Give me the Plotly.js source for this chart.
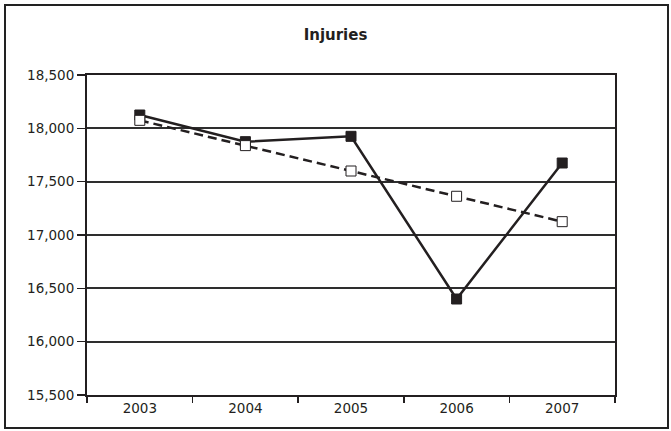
<!DOCTYPE html>
<html><head><meta charset="utf-8">
<script src="https://cdn.plot.ly/plotly-3.0.1.min.js"></script>
<style>
body{margin:0;padding:0;background:#fff;}
#wrap{position:relative;width:671px;height:431px;}
#chart{width:671px;height:431px;}
#frame{position:absolute;left:4px;top:4px;width:661px;height:421px;border:2px solid #222;pointer-events:none;}
</style></head>
<body>
<div id="wrap"><div id="chart"></div><div id="frame"></div></div>
<script>
const years = ["2003","2004","2005","2006","2007"];
const injuries = [18125, 17875, 17925, 16400, 17675];
const trend = [18075, 17838, 17600, 17363, 17125];
const yTicks = [15500, 16000, 16500, 17000, 17500, 18000, 18500];
const yTickText = ["15,500","16,000","16,500","17,000","17,500","18,000","18,500"];

const FONT = "DejaVu Sans, Liberation Sans, Arial, sans-serif";
const traces = [
  {x: years, y: injuries, type: "scatter", mode: "lines+markers",
   line: {color: "#231f20", width: 2.5},
   marker: {symbol: "square", size: 10, color: "#231f20", line: {color: "#231f20", width: 1}},
   showlegend: false},
  {x: years, y: trend, type: "scatter", mode: "lines+markers",
   line: {color: "#231f20", width: 2.5, dash: "9px,5px"},
   marker: {symbol: "square", size: 10, color: "#ffffff", line: {color: "#231f20", width: 1}},
   showlegend: false}
];

const layout = {
  width: 671, height: 431,
  margin: {l: 87, r: 56, t: 75, b: 36},
  paper_bgcolor: "#fff", plot_bgcolor: "#fff",
  font: {family: FONT, color: "#231f20", size: 13.5},
  title: {text: "<b>Injuries</b>", x: 0.5, xanchor: "center", y: 0.92, yanchor: "middle",
          font: {size: 15, family: FONT, color: "#231f20"}},
  xaxis: {type: "category", tickson: "boundaries", ticks: "outside", ticklen: 6, tickwidth: 1.5, tickcolor: "#231f20",
          showgrid: false, showline: true, linecolor: "#231f20", linewidth: 2, mirror: true,
          tickfont: {size: 13.5}, range: [-0.5, 4.5], fixedrange: true},
  yaxis: {range: [15500, 18500], tickvals: yTicks, ticktext: yTickText, ticks: "outside", ticklen: 8,
          tickwidth: 1.5, tickcolor: "#231f20", showgrid: true, gridcolor: "#2e2e2e", gridwidth: 1.8,
          showline: true, linecolor: "#231f20", linewidth: 2, mirror: true, zeroline: false,
          tickfont: {size: 13.5}, fixedrange: true}
};
Plotly.newPlot("chart", traces, layout, {displayModeBar: false, staticPlot: true});
</script>
</body></html>
